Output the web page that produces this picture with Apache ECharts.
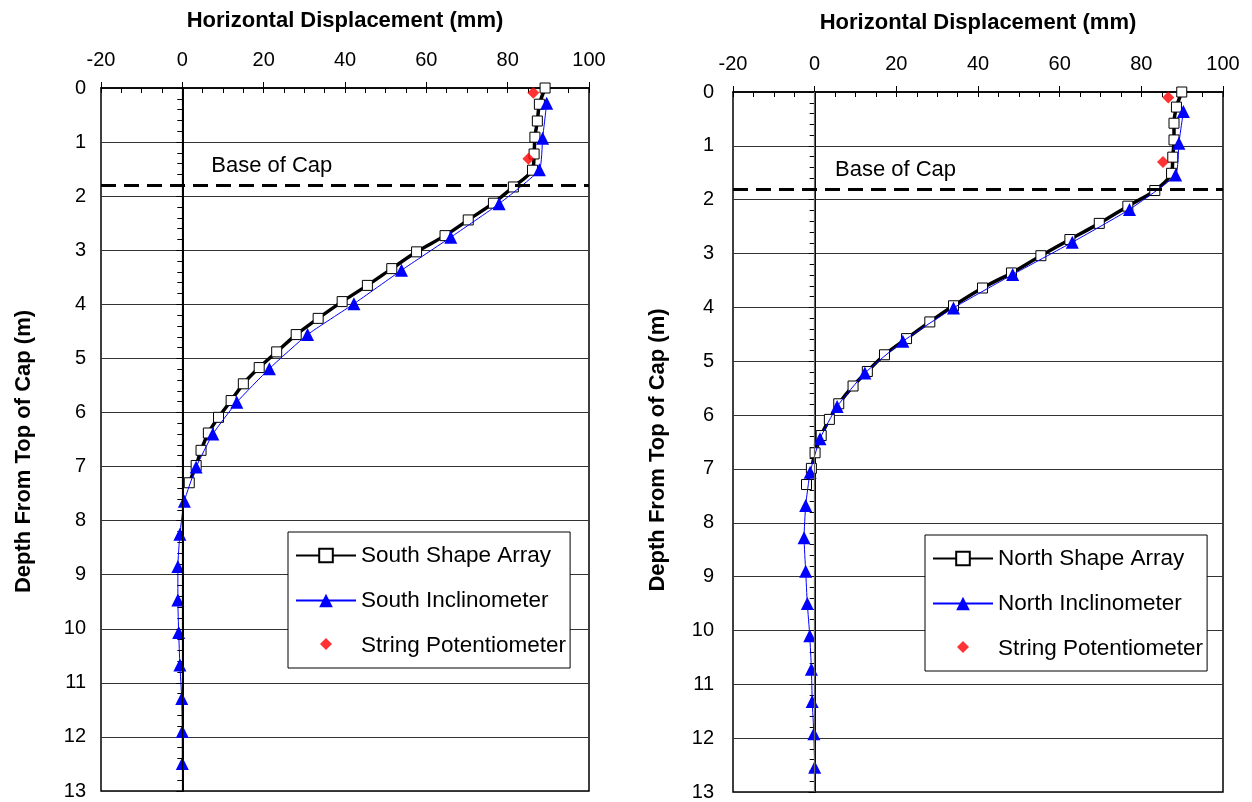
<!DOCTYPE html>
<html>
<head>
<meta charset="utf-8">
<script src="https://cdn.jsdelivr.net/npm/echarts@6/dist/echarts.min.js"></script>
<style>html,body{margin:0;padding:0;background:#fff}#c{width:1252px;height:802px}</style>
</head>
<body>
<div id="c"></div>
<script>
// ---- data ----
const southShapeDepth = [0, 0.3, 0.61, 0.91, 1.22, 1.52, 1.83, 2.13, 2.44, 2.73, 3.03, 3.34, 3.65, 3.95, 4.26, 4.56, 4.88, 5.17, 5.47, 5.78, 6.09, 6.38, 6.70, 6.98, 7.30];
const southShapeDisp  = [89.2, 87.8, 87.3, 86.7, 86.5, 86.1, 81.4, 76.5, 70.3, 64.6, 57.6, 51.5, 45.5, 39.3, 33.4, 28.0, 23.2, 18.9, 15.0, 12.0, 8.9, 6.4, 4.6, 3.4, 1.7];
const southInclDepth  = [0.28, 0.93, 1.51, 2.14, 2.76, 3.37, 3.99, 4.56, 5.19, 5.81, 6.40, 7.01, 7.64, 8.25, 8.85, 9.47, 10.07, 10.67, 11.29, 11.9, 12.49];
const southInclDisp   = [89.6, 88.6, 87.8, 77.9, 66.0, 53.9, 42.2, 30.8, 21.4, 13.4, 7.5, 3.4, 0.5, -0.6, -1.1, -1.1, -0.9, -0.6, -0.15, 0, 0];
const southPotDepth   = [0.09, 1.31];
const southPotDisp    = [86.3, 85.1];

const northShapeDepth = [0, 0.28, 0.58, 0.89, 1.21, 1.51, 1.83, 2.12, 2.44, 2.74, 3.04, 3.36, 3.64, 3.97, 4.27, 4.58, 4.88, 5.19, 5.46, 5.79, 6.08, 6.38, 6.70, 6.99, 7.29];
const northShapeDisp  = [89.9, 88.6, 88.0, 88.0, 87.7, 87.4, 83.3, 76.7, 69.7, 62.5, 55.4, 48.2, 41.1, 34.0, 28.2, 22.5, 17.1, 12.9, 9.4, 5.9, 3.6, 1.6, 0.1, -0.8, -2.0];
const northInclDepth  = [0.36, 0.95, 1.54, 2.18, 2.79, 3.39, 4.01, 4.63, 5.22, 5.84, 6.44, 7.06, 7.68, 8.28, 8.9, 9.5, 10.1, 10.72, 11.32, 11.92, 12.54];
const northInclDisp   = [90.3, 89.2, 88.4, 77.1, 63.1, 48.5, 34.0, 21.6, 12.3, 5.5, 1.3, -1.1, -2.2, -2.6, -2.2, -1.8, -1.2, -0.8, -0.6, -0.2, 0];
const northPotDepth   = [0.1, 1.30];
const northPotDisp    = [86.6, 85.3];

const baseOfCapDepth = 1.8;
const baseLabel = 'Base of Cap';
const southBaseLabelPos = [22.0, 1.44];
const northBaseLabelPos = [19.8, 1.44];
const xMin = -20, xMax = 100, xInterval = 20;
const yMin = 0, yMax = 13, yInterval = 1;
const xTitle = 'Horizontal Displacement (mm)';
const yTitle = 'Depth From Top of Cap (m)';

// ---- build ----
const FONT = "'Liberation Sans', Arial, sans-serif";
const pairs = (xs, ys) => xs.map((x, i) => [x, ys[i]]);

function xAxes(gridIndex, nameGap) {
  return [
    {
      gridIndex, type: 'value', position: 'top', min: xMin, max: xMax, interval: xInterval,
      name: xTitle, nameLocation: 'middle', nameGap,
      nameTextStyle: { fontFamily: FONT, fontSize: 22, fontWeight: 'bold', color: '#000' },
      axisLine: { show: true, lineStyle: { color: '#000', width: 1.5 } },
      axisTick: { show: true, inside: false, length: 6, lineStyle: { color: '#000' } },
      axisLabel: { fontFamily: FONT, fontSize: 20, color: '#000', margin: 18 },
      splitLine: { show: false }
    },
    {
      gridIndex, type: 'value', position: 'top', min: xMin, max: xMax, interval: xInterval,
      axisLine: { show: false },
      axisTick: { show: true, inside: true, length: 5, lineStyle: { color: '#000' } },
      minorTick: { show: true, splitNumber: 4, length: 5, lineStyle: { color: '#000' } },
      axisLabel: { show: false },
      splitLine: { show: false }
    }
  ];
}
function yAxes(gridIndex, nameGap, labelMargin, nameShift) {
  return [
    {
      gridIndex, type: 'value', inverse: true, min: yMin, max: yMax, interval: yInterval,
      name: yTitle, nameLocation: 'middle', nameGap, nameRotate: 90,
      nameTextStyle: { fontFamily: FONT, fontSize: 22, fontWeight: 'bold', color: '#000', padding: [0, nameShift, 0, 0] },
      axisLine: { show: true, lineStyle: { color: '#000', width: 2 } },
      axisTick: { show: true, inside: false, length: 6, lineStyle: { color: '#000' } },
      axisLabel: { fontFamily: FONT, fontSize: 20, color: '#000', margin: labelMargin },
      splitLine: { show: true, lineStyle: { color: '#333', width: 1 } }
    },
    {
      gridIndex, type: 'value', inverse: true, min: yMin, max: yMax, interval: yInterval,
      axisLine: { show: false },
      axisTick: { show: true, inside: true, length: 5, lineStyle: { color: '#000' } },
      minorTick: { show: true, splitNumber: 5, length: 5, lineStyle: { color: '#000' } },
      axisLabel: { show: false },
      splitLine: { show: false }
    }
  ];
}

function seriesFor(prefix, xi, yi, shapeD, shapeX, inclD, inclX, potD, potX, zeroColor, labelPos) {
  return [
    {
      name: prefix + ' Shape Array', type: 'line', xAxisIndex: xi, yAxisIndex: yi,
      data: pairs(shapeX, shapeD), smooth: 0.25,
      symbol: 'rect', symbolSize: 10, showAllSymbol: true,
      lineStyle: { color: '#000', width: 3.5 },
      itemStyle: { color: '#fff', borderColor: '#000', borderWidth: 1 },
      z: 3,
      markLine: {
        silent: true, symbol: ['none', 'none'], label: { show: false }, animation: false,
        data: [
          { xAxis: 0, lineStyle: { color: zeroColor, width: 1.2, type: 'solid' } },
          { yAxis: baseOfCapDepth, lineStyle: { color: '#000', width: 3, type: [15, 8] } }
        ]
      },
      markPoint: {
        silent: true, animation: false,
        data: [{
          coord: labelPos, symbol: 'circle', symbolSize: 1,
          itemStyle: { color: 'rgba(0,0,0,0)' },
          label: { show: true, position: 'inside', formatter: baseLabel, fontFamily: FONT, fontSize: 22, color: '#000' }
        }]
      }
    },
    {
      name: prefix + ' Inclinometer', type: 'line', xAxisIndex: xi, yAxisIndex: yi,
      data: pairs(inclX, inclD), smooth: 0.15,
      symbol: 'triangle', symbolSize: 13, showAllSymbol: true,
      lineStyle: { color: '#0000ff', width: 1 },
      itemStyle: { color: '#0000ff' },
      z: 4
    },
    {
      name: 'String Potentiometer', type: 'scatter', xAxisIndex: xi, yAxisIndex: yi,
      data: pairs(potX, potD), symbol: 'diamond', symbolSize: 12,
      itemStyle: { color: '#ff0000' }, z: 5
    }
  ];
}

function legendsFor(prefix, left, top) {
  return [
    {
      left, top, orient: 'vertical', selectedMode: false,
      data: [
        prefix + ' Shape Array',
        prefix + ' Inclinometer',
        { name: 'String Potentiometer', itemStyle: { color: 'rgba(0,0,0,0)', opacity: 0, borderWidth: 0 } }
      ],
      itemWidth: 60, itemHeight: 17, itemGap: 22,
      padding: [12, 4, 11, 7],
      borderColor: '#000', borderWidth: 1, backgroundColor: '#fff',
      textStyle: { fontFamily: FONT, fontSize: 22.5, color: '#000' }
    },
    {
      left: left + 32, top: top + 106, orient: 'vertical', selectedMode: false,
      data: ['String Potentiometer'], formatter: () => '',
      itemWidth: 12, itemHeight: 12, padding: 0,
      textStyle: { fontSize: 1 }
    }
  ];
}

const chart = echarts.init(document.getElementById('c'), null, { renderer: 'canvas' });
chart.setOption({
  animation: false,
  backgroundColor: '#fff',
  grid: [
    { left: 101, top: 88, width: 488, height: 703, show: true, borderColor: '#000', borderWidth: 1.5, backgroundColor: '#fff' },
    { left: 733, top: 92, width: 490, height: 702, show: true, borderColor: '#000', borderWidth: 1.5, backgroundColor: '#fff' }
  ],
  xAxis: [...xAxes(0, 56), ...xAxes(1, 58)],
  yAxis: [...yAxes(0, 66, 15, 24), ...yAxes(1, 64, 19, 16)],
  legend: [...legendsFor('South', 288, 532), ...legendsFor('North', 925, 535)],
  series: [
    ...seriesFor('South', 0, 0, southShapeDepth, southShapeDisp, southInclDepth, southInclDisp, southPotDepth, southPotDisp, '#000', southBaseLabelPos),
    ...seriesFor('North', 2, 2, northShapeDepth, northShapeDisp, northInclDepth, northInclDisp, northPotDepth, northPotDisp, '#666', northBaseLabelPos)
  ]
});
</script>
</body>
</html>
